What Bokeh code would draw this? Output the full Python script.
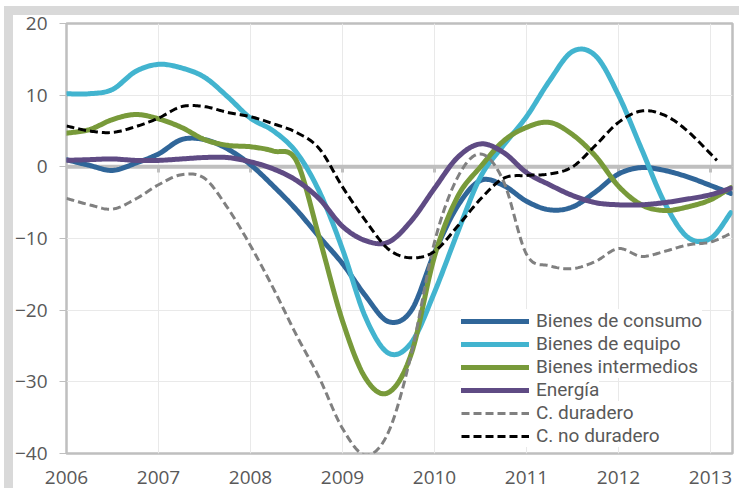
from bokeh.plotting import figure
from bokeh.models import Range1d, FixedTicker, Span, Legend, LegendItem
from bokeh.embed import file_html
from bokeh.resources import INLINE

# ---------------- data ----------------
years = [2006, 2007, 2008, 2009, 2010, 2011, 2012, 2013]
year_labels = ["2006", "2007", "2008", "2009", "2010", "2011", "2012", "2013"]
y_ticks = [-40, -30, -20, -10, 0, 10, 20]

t = [2006.0, 2006.25, 2006.5, 2006.75, 2007.0, 2007.25, 2007.5, 2007.75,
     2008.0, 2008.25, 2008.5, 2008.75, 2009.0, 2009.25, 2009.5, 2009.75,
     2010.0, 2010.25, 2010.5, 2010.75, 2011.0, 2011.25, 2011.5, 2011.75,
     2012.0, 2012.25, 2012.5, 2012.75, 2013.0, 2013.22]
t_nodur = [2006.0, 2006.25, 2006.5, 2006.75, 2007.0, 2007.25, 2007.5, 2007.75,
           2008.0, 2008.25, 2008.5, 2008.75, 2009.0, 2009.25, 2009.5, 2009.75,
           2010.0, 2010.25, 2010.5, 2010.75, 2011.0, 2011.25, 2011.5, 2011.75,
           2012.0, 2012.25, 2012.5, 2012.75, 2013.07]

consumo = [1.0, 0.2, -0.5, 0.5, 1.8, 3.8, 3.8, 2.5, 0.3, -2.7, -6.0, -9.8,
           -13.5, -18.0, -21.6, -20.0, -12.0, -5.5, -1.9, -2.6, -4.8, -6.0,
           -5.6, -3.5, -1.0, -0.1, -0.5, -1.4, -2.6, -3.7]
equipo = [10.2, 10.2, 10.8, 13.3, 14.3, 13.8, 12.5, 9.8, 6.8, 5.0, 2.0, -3.5,
          -11.5, -21.0, -26.0, -24.5, -17.5, -9.2, -1.4, 3.0, 7.0, 12.0,
          16.1, 15.5, 10.0, 2.5, -5.0, -9.8, -10.0, -6.4]
intermedios = [4.7, 5.2, 6.6, 7.3, 6.7, 5.5, 3.8, 3.0, 2.8, 2.2, 0.8, -10.0,
               -21.5, -29.5, -31.5, -26.0, -12.5, -4.2, 0.0, 3.6, 5.5, 6.2,
               4.5, 1.5, -2.7, -5.3, -6.1, -5.6, -4.6, -2.9]
energia = [0.9, 1.0, 1.1, 0.9, 0.9, 1.1, 1.3, 1.3, 0.7, -0.3, -1.9, -4.5,
           -8.3, -10.3, -10.5, -7.5, -3.0, 1.3, 3.2, 2.0, -0.8, -2.5, -4.0,
           -5.0, -5.3, -5.3, -5.0, -4.5, -3.9, -3.0]
duradero = [-4.4, -5.3, -5.9, -4.5, -2.5, -1.1, -1.6, -5.7, -11.0, -17.0,
            -23.5, -29.5, -36.5, -40.2, -37.0, -26.0, -10.5, -1.5, 1.8, -2.0,
            -12.2, -13.8, -14.2, -13.2, -11.4, -12.5, -11.8, -10.9, -10.5, -9.3]
no_duradero = [5.7, 5.0, 4.8, 5.6, 6.8, 8.4, 8.4, 7.6, 7.0, 6.0, 4.8, 2.5,
               -2.8, -7.5, -11.5, -12.7, -11.8, -8.3, -4.5, -1.6, -1.2, -1.0,
               0.0, 3.0, 6.2, 7.8, 7.2, 5.0, 0.9]

names = ["Bienes de consumo", "Bienes de equipo", "Bienes intermedios",
         "Energía", "C. duradero", "C. no duradero"]


def smooth(xs, ys, n=16):
    """Excel-style smoothed line (Catmull-Rom / Bezier through the points)."""
    m = len(xs)
    ox, oy = [], []
    for i in range(m - 1):
        i0 = i - 1 if i > 0 else i
        i3 = i + 2 if i + 2 < m else i + 1
        x0, x1, x2, x3 = xs[i0], xs[i], xs[i + 1], xs[i3]
        y0, y1, y2, y3 = ys[i0], ys[i], ys[i + 1], ys[i3]
        for k in range(n):
            s = k / n
            s2, s3 = s * s, s * s * s
            ox.append(0.5 * (2 * x1 + (-x0 + x2) * s + (2 * x0 - 5 * x1 + 4 * x2 - x3) * s2
                             + (-x0 + 3 * x1 - 3 * x2 + x3) * s3))
            oy.append(0.5 * (2 * y1 + (-y0 + y2) * s + (2 * y0 - 5 * y1 + 4 * y2 - y3) * s2
                             + (-y0 + 3 * y1 - 3 * y2 + y3) * s3))
    ox.append(xs[-1])
    oy.append(ys[-1])
    return ox, oy


FONT = "Open Sans"
LEG_FONT = "Roboto"
TXT = "#595959"
AX = "#bfbfbf"
BAND = "#d9d9d9"

W, H = 739, 488
ML, MR, MT, MB = 66, 7, 23, 35
frame_w = W - ML - MR
x_end = 2006 + frame_w / 92.0

p = figure(width=W, height=H, x_range=Range1d(2006, x_end), y_range=Range1d(-40, 20),
           output_backend="svg", toolbar_location=None,
           min_border_left=ML, min_border_right=MR, min_border_top=MT, min_border_bottom=MB)

# light-grey frame bands along the top and left edges (page background behind
# the transparent canvas border)
p.styles = {
    "background-image": f"linear-gradient({BAND}, {BAND}), linear-gradient({BAND}, {BAND})",
    "background-size": "100% 9px, 9px 100%",
    "background-position": "4px 6px, 4px 6px",
    "background-repeat": "no-repeat",
}

p.background_fill_color = "white"
p.border_fill_alpha = 0
p.outline_line_color = AX
p.outline_line_width = 2.5

# axes
p.xaxis.ticker = FixedTicker(ticks=years)
p.xaxis.major_label_overrides = {y: l for y, l in zip(years, year_labels)}
p.xaxis.axis_line_color = None
p.xaxis.major_tick_line_color = None
p.xaxis.minor_tick_line_color = None
p.xaxis.major_label_standoff = 11
p.xaxis.major_label_text_font = FONT
p.xaxis.major_label_text_font_size = "19px"
p.xaxis.major_label_text_color = TXT

p.yaxis.ticker = FixedTicker(ticks=y_ticks)
p.yaxis.axis_line_color = None
p.yaxis.major_tick_line_color = AX
p.yaxis.major_tick_out = 7
p.yaxis.major_tick_in = 0
p.yaxis.minor_tick_line_color = None
p.yaxis.major_label_standoff = 12
p.yaxis.major_label_text_font = FONT
p.yaxis.major_label_text_font_size = "19px"
p.yaxis.major_label_text_color = TXT

# grids
p.xgrid.ticker = FixedTicker(ticks=years)
p.ygrid.ticker = FixedTicker(ticks=y_ticks)
p.grid.grid_line_color = "#e9e9e9"
p.grid.grid_line_width = 1

# zero line with tick marks
p.add_layout(Span(location=0, dimension="width", line_color=AX, line_width=4,
                  level="underlay"))
p.segment(x0=years[1:], y0=[0] * 7, x1=years[1:], y1=[-0.8] * 7,
          line_color=AX, line_width=3)

styles = [
    dict(color="#306699", width=5, dash="solid"),
    dict(color="#42b4cf", width=5, dash="solid"),
    dict(color="#789a3a", width=5, dash="solid"),
    dict(color="#5f4b84", width=5, dash="solid"),
    dict(color="#808080", width=3, dash="8 4"),
    dict(color="#000000", width=3, dash="8 4"),
]
series = [(t, consumo), (t, equipo), (t, intermedios), (t, energia),
          (t, duradero), (t_nodur, no_duradero)]

items = []
for (xs, ys), st, nm in zip(series, styles, names):
    sx, sy = smooth(xs, ys)
    r = p.line(sx, sy, line_color=st["color"], line_width=st["width"],
               line_dash=st["dash"],
               line_cap="round" if st["dash"] == "solid" else "butt",
               line_join="round")
    items.append(LegendItem(label=nm, renderers=[r]))

# legend: one entry per box so the row pitch matches the reference;
# added bottom-up so upper boxes sit on top of lower ones
legend_offsets = [121, 98, 75, 52, 29, 6]   # px above the plot's bottom edge
for item, off in reversed(list(zip(items, legend_offsets))):
    lg = Legend(items=[item], location=(395, off))
    lg.glyph_width = 68
    lg.glyph_height = 22
    lg.label_height = 22
    lg.spacing = 0
    lg.padding = 5
    lg.margin = 0
    lg.label_standoff = 7
    lg.label_text_font = LEG_FONT
    lg.label_text_font_size = "19px"
    lg.label_text_color = TXT
    lg.background_fill_color = "white"
    lg.background_fill_alpha = 1
    lg.border_line_color = None
    p.add_layout(lg)

open("out.html", "w").write(file_html(p, INLINE))
